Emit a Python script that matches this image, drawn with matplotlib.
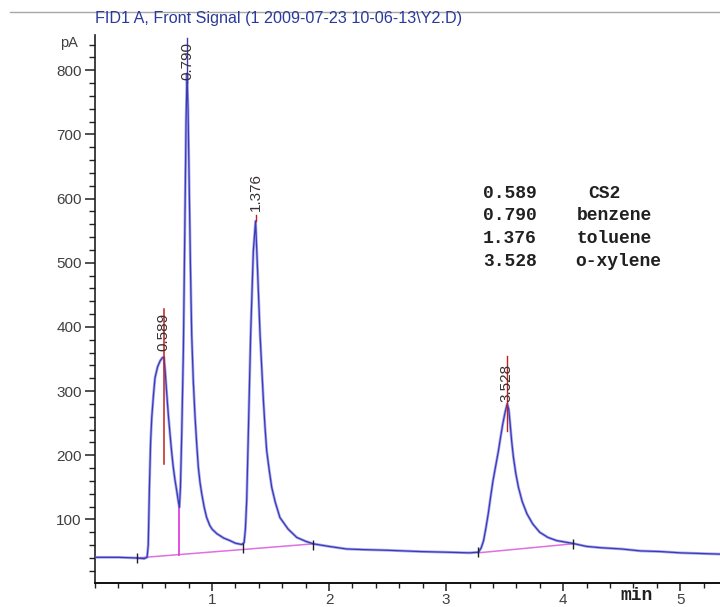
import matplotlib
matplotlib.use("Agg")
import matplotlib.pyplot as plt
from matplotlib.ticker import MultipleLocator, FixedLocator

# ---- data ----
time_min = [0.00, 0.20, 0.356, 0.42, 0.445, 0.455, 0.465, 0.475, 0.485, 0.50,
            0.513, 0.535, 0.556, 0.575, 0.589, 0.60, 0.613, 0.627, 0.641, 0.655,
            0.669, 0.683, 0.698, 0.712, 0.721, 0.730, 0.741, 0.755, 0.768, 0.778,
            0.786, 0.795, 0.805, 0.815, 0.826, 0.840, 0.855, 0.870, 0.883, 0.897,
            0.912, 0.933, 0.954, 0.98, 1.00, 1.04, 1.10, 1.154, 1.20, 1.254,
            1.274, 1.285, 1.296, 1.31, 1.33, 1.353, 1.372, 1.388, 1.41, 1.425,
            1.439, 1.453, 1.467, 1.49, 1.51, 1.54, 1.58, 1.65, 1.724, 1.80,
            1.866, 2.0, 2.15, 2.3, 2.5, 2.78, 3.0, 3.2, 3.277, 3.30,
            3.32, 3.34, 3.36, 3.38, 3.40, 3.425, 3.447, 3.465, 3.484, 3.505,
            3.522, 3.535, 3.547, 3.56, 3.575, 3.595, 3.618, 3.65, 3.69, 3.74,
            3.80, 3.87, 3.946, 4.074, 4.20, 4.32, 4.5, 4.66, 4.83, 5.0,
            5.17, 5.34]
signal_pA = [41, 41, 40, 39, 41, 60, 150, 220, 259, 295,
             321, 338, 347, 352, 353, 330, 296, 262, 233, 205,
             181, 162, 145, 128, 119, 150, 233, 363, 560, 720,
             795, 740, 620, 500, 389, 315, 259, 215, 181, 158,
             140, 119, 103, 91, 85, 78, 71, 67, 63, 61,
             64, 85, 129, 233, 389, 519, 565, 493, 389, 335,
             285, 243, 207, 175, 150, 127, 103, 85, 72, 66,
             62, 58, 54, 53, 52, 50, 49, 48, 49, 56,
             67, 87, 109, 135, 160, 185, 207, 228, 249, 268,
             280, 272, 249, 222, 197, 172, 150, 128, 109, 93,
             80, 72, 67, 63, 58, 56, 54, 51, 50, 48,
             47, 46]

peak_rt = [0.589, 0.790, 1.376, 3.528]
peak_names = ["CS2", "benzene", "toluene", "o-xylene"]
peak_label_base = [363, 785, 580, 283]      # pA where the rotated RT label starts
peak_label_x = [0.584, 0.786, 1.376, 3.518]

baseline1_t = [0.356, 1.866]
baseline1_v = [40, 62]
baseline2_t = [3.272, 4.08]
baseline2_v = [48, 62]
drop_t = 0.721
drop_v = [45, 119]
event_t = [0.356, 1.262, 1.866, 3.272, 4.08]
event_v = [40, 56, 60, 49, 61]

title = "FID1 A, Front Signal (1 2009-07-23 10-06-13\\Y2.D)"

# ---- figure ----
fig = plt.figure(figsize=(7.2, 6.07), dpi=100)
W, H = 720, 607
ax = fig.add_axes([95 / W, (H - 583) / H, (W - 95) / W, (583 - 35) / H])
ax.set_xlim(0, 5.34)
ax.set_ylim(1, 855)

curve_col = "#3a3ab4"
pink = "#e070e0"

# baselines and drop line
ax.plot(baseline1_t, baseline1_v, color=pink, lw=1.1, zorder=2)
ax.plot(baseline2_t, baseline2_v, color=pink, lw=1.1, zorder=2)
ax.plot([drop_t, drop_t], drop_v, color="#e040e0", lw=1.3, zorder=2)

# signal
ax.plot(time_min, signal_pA, color="#7070e8", lw=2.0, alpha=0.6, zorder=3)
ax.plot(time_min, signal_pA, color=curve_col, lw=0.9, zorder=4)

# integration event ticks
ax.plot(event_t, event_v, ls="none", marker="|", ms=7, mew=1.0, color="#202020", zorder=5)

# peak markers
ax.plot([0.589, 0.589], [187, 428], color="#c02020", lw=1.1, zorder=5)
ax.plot([0.786, 0.786], [780, 850], color=curve_col, lw=1.0, zorder=5)
ax.plot([1.376, 1.376], [565, 575], color="#c02020", lw=1.0, zorder=5)
ax.plot([3.518, 3.518], [238, 355], color="#c02020", lw=1.0, zorder=5)

for x, rt, base in zip(peak_label_x, peak_rt, peak_label_base):
    ax.text(x, base, f"{rt:.3f}", rotation=90, ha="center", va="bottom",
            fontsize=11, color="#3a3030", family="Liberation Sans", zorder=6)

# legend table
rows_y = [193, 216, 239, 262]
name_x = [588, 577, 577, 575]
for rt, name, yy, nx in zip(peak_rt, peak_names, rows_y, name_x):
    fig.text(483 / W, 1 - yy / H, f"{rt:.3f}", ha="left", va="center",
             fontsize=13, family="Liberation Mono", weight="bold", color="#202020")
    fig.text(nx / W, 1 - yy / H, name, ha="left", va="center",
             fontsize=13, family="Liberation Mono", weight="bold", color="#202020")

# axes styling
for s in ("top", "right"):
    ax.spines[s].set_visible(False)
ax.spines["left"].set_color("#202020")
ax.spines["bottom"].set_color("#101010")
ax.spines["left"].set_linewidth(1.2)
ax.spines["bottom"].set_linewidth(1.4)

ax.xaxis.set_major_locator(FixedLocator([1, 2, 3, 4, 5]))
ax.xaxis.set_minor_locator(MultipleLocator(0.2))
ax.yaxis.set_major_locator(FixedLocator([100, 200, 300, 400, 500, 600, 700, 800]))
ax.yaxis.set_minor_locator(MultipleLocator(20))
ax.tick_params(axis="x", which="major", direction="out", length=6, width=1.1,
               labelsize=11, pad=1.2, colors="#202020", labelcolor="#404040")
ax.tick_params(axis="x", which="minor", direction="out", length=3.5, width=1.0, colors="#202020")
ax.tick_params(axis="y", which="major", direction="out", length=7.5, width=1.1,
               labelsize=11, pad=2, colors="#202020", labelcolor="#404040")
ax.tick_params(axis="y", which="minor", direction="out", length=4, width=1.0, colors="#202020")
for lab in ax.get_xticklabels() + ax.get_yticklabels():
    lab.set_family("Liberation Sans")

fig.text(78 / W, 1 - 43 / H, "pA", ha="right", va="center", fontsize=10.5,
         family="Liberation Sans", color="#404040")
fig.text(637 / W, 1 - 596 / H, "min", ha="center", va="center", fontsize=13,
         family="Liberation Mono", weight="bold", color="#202020")

# window title and top rule
fig.text(95 / W, 1 - 18 / H, title, ha="left", va="center", fontsize=11.6,
         family="Liberation Sans", color="#2a3a9c")
fig.add_artist(plt.Line2D([10 / W, 1.0], [1 - 12 / H, 1 - 12 / H],
                          transform=fig.transFigure, color="#a8a8a8", lw=1))

fig.savefig("out.png", dpi=100, facecolor="white")
